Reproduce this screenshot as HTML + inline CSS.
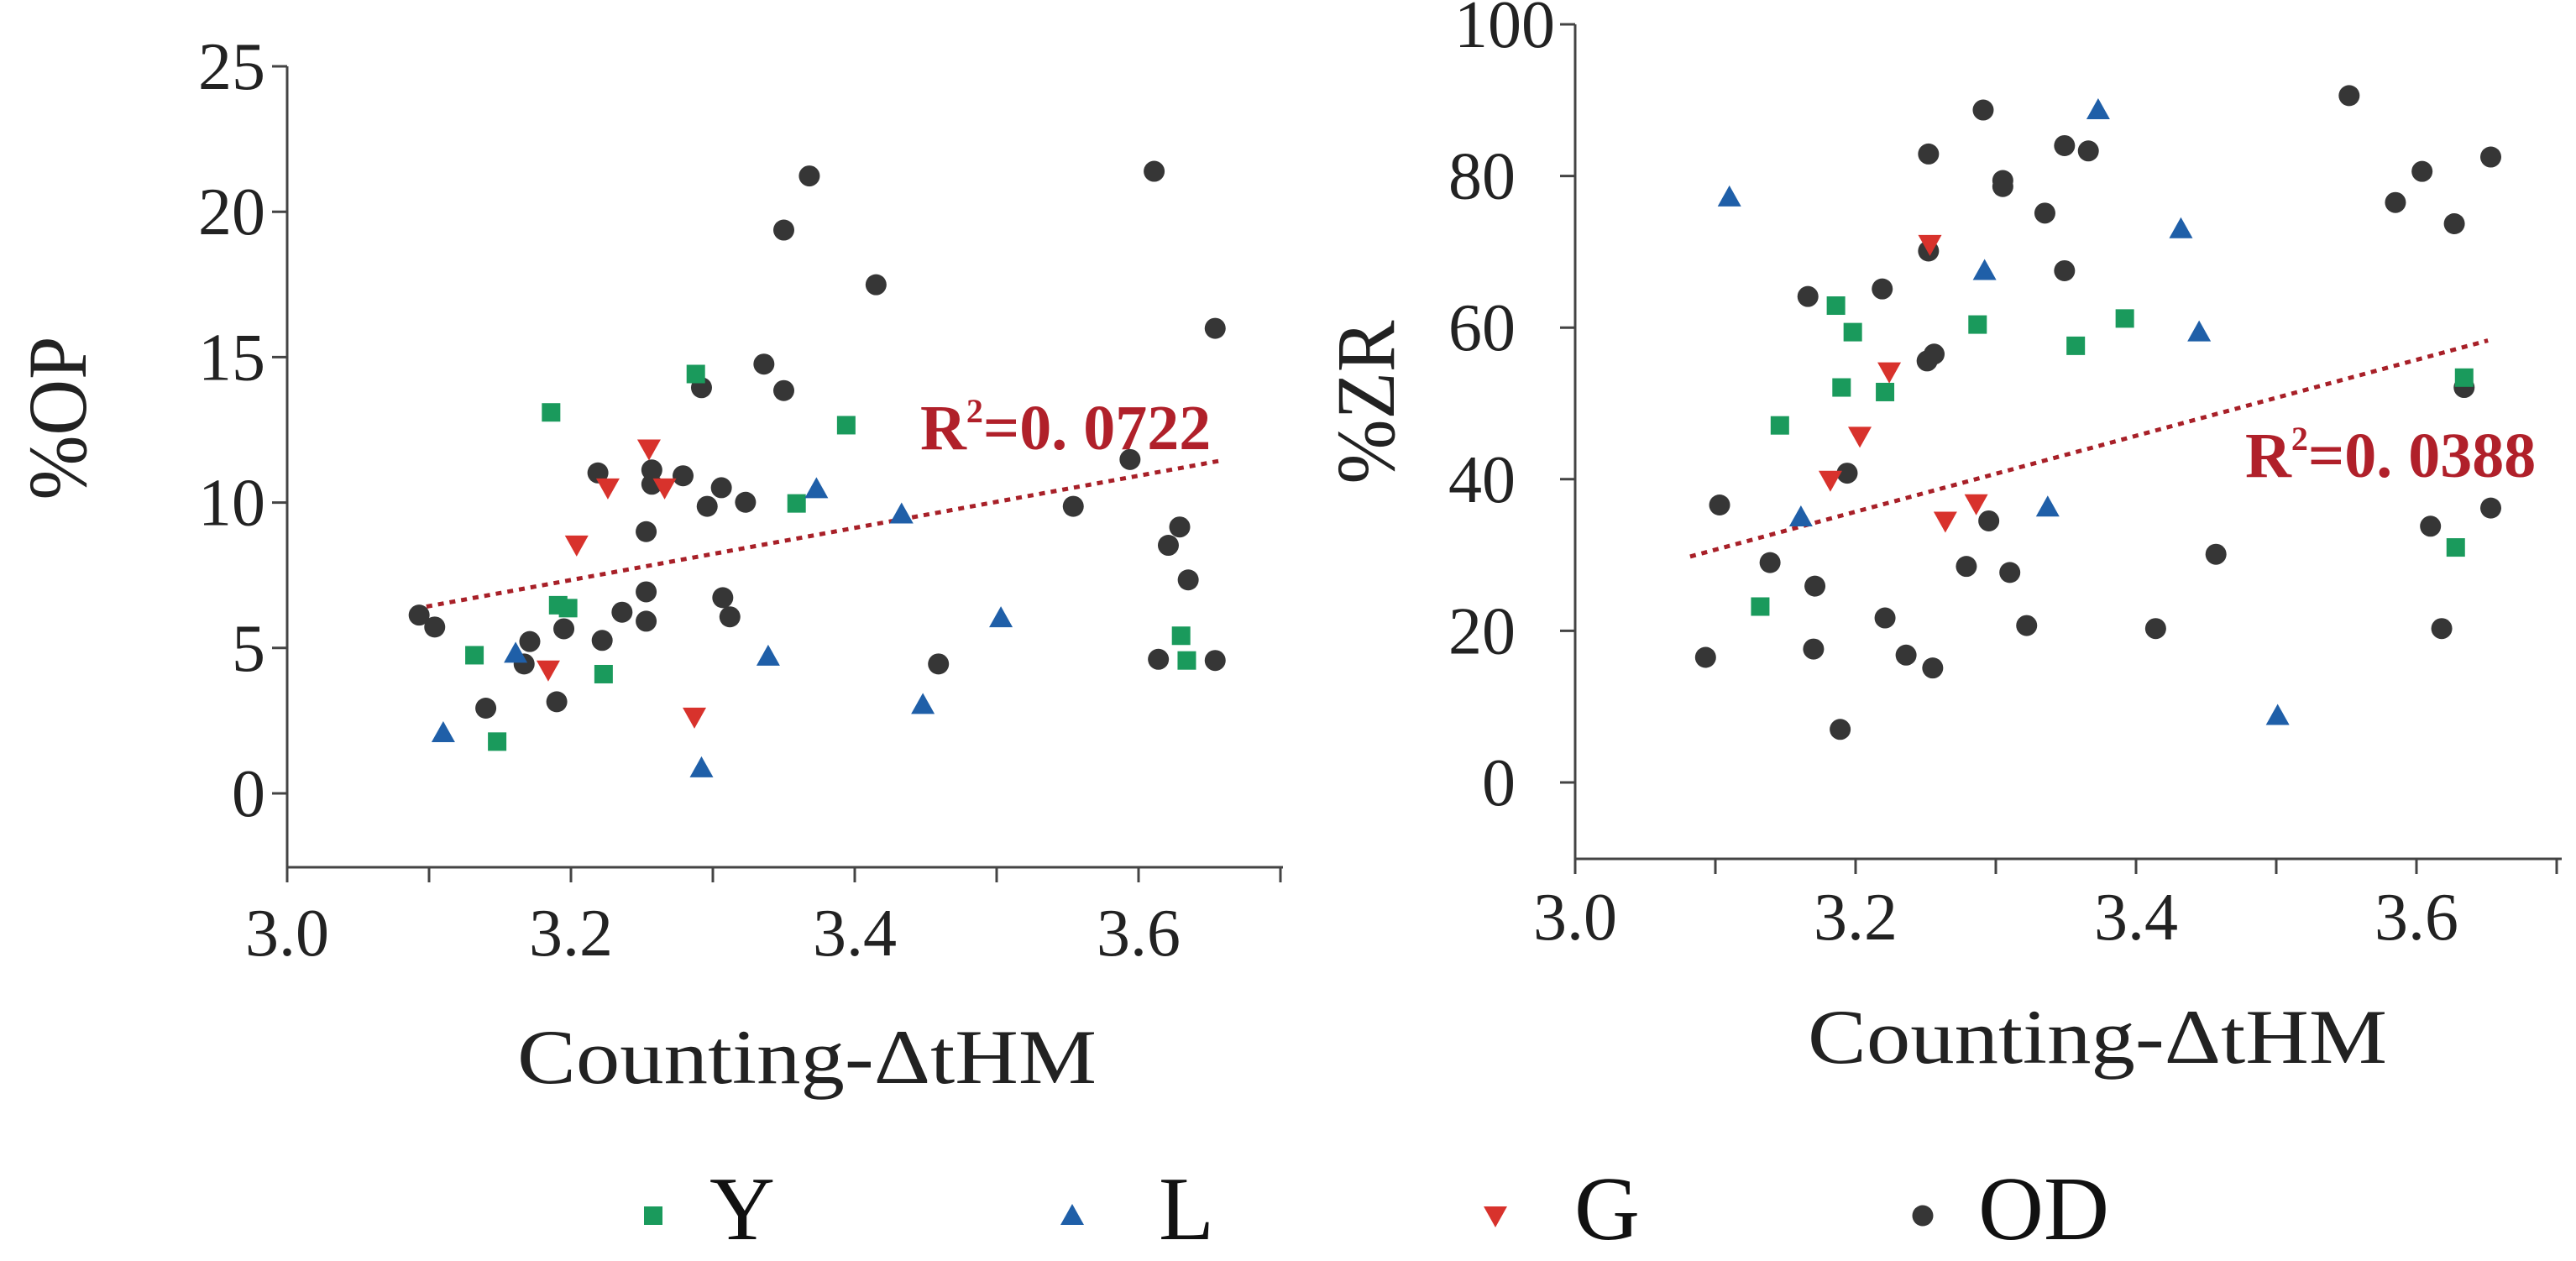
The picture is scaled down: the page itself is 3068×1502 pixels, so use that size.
<!DOCTYPE html>
<html><head><meta charset="utf-8"><style>
html,body{margin:0;padding:0;background:#fff;}
svg{display:block;font-family:"Liberation Serif",serif;}
</style></head><body>
<svg id="chart" width="3068" height="1502" viewBox="0 0 3068 1502" xmlns="http://www.w3.org/2000/svg">
<g id="left"></g>
<g id="right"></g>
<g id="legend"></g>
</svg>
<script>
const NS="http://www.w3.org/2000/svg";
// ---- Left panel data (%OP) ----
const opY_x=[3.132,3.148,3.186,3.191,3.198,3.223,3.288,3.359,3.394,3.630,3.634];
const opY_y=[4.75,1.78,13.10,6.47,6.37,4.10,14.42,9.97,12.66,5.42,4.57];
const opL_x=[3.110,3.161,3.292,3.339,3.373,3.433,3.448,3.503];
const opL_y=[2.08,4.81,0.87,4.71,10.47,9.60,3.05,6.03];
const opG_x=[3.184,3.204,3.226,3.255,3.266,3.287];
const opG_y=[4.25,8.55,10.51,11.85,10.51,2.63];
const opOD_x=[3.093,3.104,3.140,3.171,3.167,3.190,3.195,3.219,3.222,3.236,3.253,3.253,3.253,3.257,3.257,3.279,3.292,3.296,3.306,3.307,3.312,3.323,3.336,3.350,3.350,3.368,3.415,3.459,3.554,3.594,3.611,3.614,3.621,3.629,3.635,3.654,3.654];
const opOD_y=[6.13,5.72,2.93,5.22,4.45,3.15,5.66,11.02,5.26,6.23,9.0,6.93,5.92,11.12,10.63,10.92,13.95,9.87,10.51,6.73,6.07,10.01,14.76,13.85,19.37,21.23,17.49,4.45,9.87,11.48,21.39,4.61,8.53,9.16,7.34,4.57,15.99];
const opTrend_x=[3.090,3.660];
const opTrend_y=[6.35,11.46];
const opYTicks=[0,5,10,15,20,25];
const opXTicks=[3.0,3.2,3.4,3.6];
// ---- Right panel data (%ZR) ----
const zrY_x=[3.132,3.146,3.186,3.190,3.198,3.221,3.287,3.357,3.392,3.628,3.634];
const zrY_y=[23.2,47.1,62.9,52.1,59.4,51.5,60.4,57.6,61.2,31.0,53.4];
const zrL_x=[3.110,3.161,3.292,3.337,3.373,3.432,3.445,3.501];
const zrL_y=[77.2,35.0,67.5,36.3,88.7,73.0,59.4,8.8];
const zrG_x=[3.182,3.203,3.224,3.253,3.264,3.286];
const zrG_y=[39.9,45.7,54.2,71.0,34.5,36.8];
const zrOD_x=[3.093,3.103,3.139,3.171,3.170,3.166,3.189,3.194,3.219,3.221,3.236,3.252,3.252,3.255,3.251,3.256,3.279,3.291,3.295,3.305,3.305,3.310,3.322,3.335,3.349,3.349,3.366,3.414,3.457,3.552,3.585,3.604,3.618,3.610,3.627,3.634,3.653,3.653];
const zrOD_y=[16.5,36.6,29.0,25.9,17.6,64.1,7.0,40.8,65.1,21.7,16.8,82.9,70.1,15.1,55.6,56.5,28.5,88.7,34.5,78.6,79.4,27.7,20.7,75.1,84.0,67.5,83.3,20.3,30.1,90.6,76.5,80.6,20.3,33.8,73.7,52.1,36.2,82.5];
const zrTrend_x=[3.082,3.651];
const zrTrend_y=[29.8,58.3];
const zrYTicks=[0,20,40,60,80,100];
const zrXTicks=[3.0,3.2,3.4,3.6];

const COL={Y:"#1a9a5c",L:"#1f5fa8",G:"#d8322c",OD:"#363636"};

function mk(tag,attrs,parent){const e=document.createElementNS(NS,tag);for(const k in attrs)e.setAttribute(k,attrs[k]);parent.appendChild(e);return e;}

function marker(g,type,cx,cy){
  let e;
  if(type==="Y"){e=mk("rect",{x:cx-11,y:cy-11,width:22,height:22,fill:COL.Y},g);}
  else if(type==="L"){e=mk("polygon",{points:`${cx},${cy-14} ${cx+14},${cy+11} ${cx-14},${cy+11}`,fill:COL.L},g);}
  else if(type==="G"){e=mk("polygon",{points:`${cx-14},${cy-11} ${cx+14},${cy-11} ${cx},${cy+14}`,fill:COL.G},g);}
  else {e=mk("circle",{cx:cx,cy:cy,r:12.5,fill:COL.OD},g);}
  return e;
}

function panel(g,cfg){
  const xs=v=>cfg.x0+(v-3.0)*cfg.xpx;
  const ys=v=>cfg.y0-v*cfg.ypx;
  const ya=mk("line",{x1:cfg.x0,y1:cfg.yTop,x2:cfg.x0,y2:cfg.yAxis,stroke:"#444","stroke-width":3},g);
  
  
  const xa=mk("line",{x1:cfg.x0,y1:cfg.yAxis,x2:cfg.xEnd,y2:cfg.yAxis,stroke:"#444","stroke-width":3},g);
  
  
  cfg.yTicks.forEach(v=>{
    const t=mk("line",{x1:cfg.x0-18,y1:ys(v),x2:cfg.x0,y2:ys(v),stroke:"#444","stroke-width":3},g);
    
    
    const rx=(v===100)?cfg.x0-24:cfg.yLabRight;
    const l=mk("text",{x:rx,y:ys(v)+27,"text-anchor":"end","font-size":80,fill:"#222"},g);
    l.textContent=String(v);
    
    
  });
  for(let v=3.0;v<=3.701;v+=0.1){
    const t=mk("line",{x1:xs(v),y1:cfg.yAxis,x2:xs(v),y2:cfg.yAxis+18,stroke:"#444","stroke-width":3},g);
    
    
  }
  cfg.xTicks.forEach(v=>{
    const l=mk("text",{x:xs(v),y:cfg.xLabY,"text-anchor":"middle","font-size":80,fill:"#222"},g);
    l.textContent=v.toFixed(1);
    
    
  });
  const xt=mk("text",{x:cfg.xTitleX,y:cfg.xTitleY,"text-anchor":"middle","font-size":92,textLength:690,lengthAdjust:"spacingAndGlyphs",fill:"#222"},g);
  xt.textContent="Counting-ΔtHM";
  
  
  const yt=mk("text",{x:0,y:0,"text-anchor":"middle","font-size":100,textLength:195,lengthAdjust:"spacingAndGlyphs",fill:"#222",transform:`translate(${cfg.yTitleX},${cfg.yTitleY}) rotate(-90)`},g);
  yt.textContent=cfg.yTitle;
  
  
  const tl=mk("line",{x1:xs(cfg.tx[0]),y1:ys(cfg.ty[0]),x2:xs(cfg.tx[1]),y2:ys(cfg.ty[1]),stroke:"#a82028","stroke-width":5,"stroke-dasharray":"7 7"},g);
  
  
  const r=mk("text",{x:cfg.r2x,y:cfg.r2y,"font-size":76,"font-weight":"bold",fill:"#b0202a"},g);
  r.innerHTML='R<tspan font-size="40" dy="-32">2</tspan><tspan dy="32">=0. '+cfg.r2+'</tspan>';
  
  
  [["OD",cfg.od],["Y",cfg.Y],["L",cfg.L],["G",cfg.G]].forEach(([k,s])=>{
    s[0].forEach((xv,i)=>{
      const e=marker(g,k,xs(xv),ys(s[1][i]));
      
      
    });
  });
}

panel(document.getElementById("left"),{x0:342,xpx:1690,y0:945,ypx:34.64,yTop:79,yAxis:1033,xEnd:1528,
  yTicks:opYTicks,xTicks:opXTicks,yLabRight:316,xLabY:1138,xTitleX:961,xTitleY:1290,yTitleX:102,yTitleY:498,yTitle:"%OP",
  tx:opTrend_x,ty:opTrend_y,r2x:1096,r2y:535,r2:"0722",
  od:[opOD_x,opOD_y],Y:[opY_x,opY_y],L:[opL_x,opL_y],G:[opG_x,opG_y]});
panel(document.getElementById("right"),{x0:1876,xpx:1670,y0:932,ypx:9.03,yTop:29,yAxis:1023,xEnd:3051,
  yTicks:zrYTicks,xTicks:zrXTicks,yLabRight:1805,xLabY:1119,xTitleX:2498,xTitleY:1266,yTitleX:1660,yTitleY:479,yTitle:"%ZR",
  tx:zrTrend_x,ty:zrTrend_y,r2x:2674,r2y:568,r2:"0388",
  od:[zrOD_x,zrOD_y],Y:[zrY_x,zrY_y],L:[zrL_x,zrL_y],G:[zrG_x,zrG_y]});

const lg=document.getElementById("legend");
[["Y",778,845],["L",1277,1380],["G",1781,1875],["OD",2290,2356]].forEach(([k,mx,tx])=>{
  const m=marker(lg,k,mx,1448);
  
  
  const t=mk("text",{x:tx,y:1476,"font-size":108,fill:"#111"},lg);
  t.textContent=k;
  
  
});
</script>
</body></html>
